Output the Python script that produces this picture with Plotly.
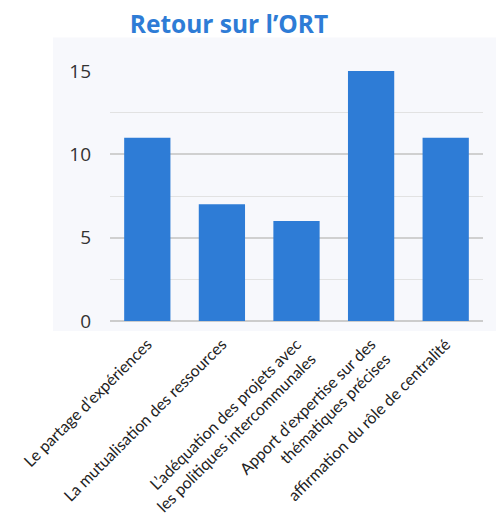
"""
Retour sur l'ORT bar chart.
"""

import plotly.graph_objects as go

# Data
CATEGORIES = [
    "Le partage d’expériences",
    "La mutualisation des ressources",
    "L’adéquation des projets avec<br>les politiques intercommunales",
    "Apport d’expertise sur des<br>thématiques précises",
    "affirmation du rôle de centralité",
]
COUNTS = [11, 7, 6, 15, 11]
Y_TICKS = [0, 5, 10, 15]

BAR_COLOR = "#2e7cd6"
PANEL_BG = "#f7f8fc"

# the page puts an 8px body margin around the figure
FIG_W, FIG_H = 496, 514


def plot_figure(save_path="out.html"):
    fig = go.Figure()

    fig.add_trace(
        go.Bar(
            x=CATEGORIES,
            y=COUNTS,
            marker=dict(color=BAR_COLOR, line=dict(width=0)),
            width=0.62,
        )
    )

    # light panel behind the plot, wider than the plot area
    fig.add_shape(
        type="rect",
        xref="paper",
        yref="paper",
        x0=-0.153,
        x1=1.07,
        y0=-0.04,
        y1=1.134,
        fillcolor=PANEL_BG,
        line=dict(width=0),
        layer="below",
    )

    fig.update_layout(
        width=FIG_W,
        height=FIG_H,
        margin=dict(l=102, r=21, t=62.5, b=201, autoexpand=False),
        paper_bgcolor="white",
        plot_bgcolor="rgba(0,0,0,0)",
        showlegend=False,
        font=dict(family="Open Sans", color="#333333"),
        title=dict(
            text="<b>Retour sur l’ORT</b>",
            font=dict(family="Open Sans", size=24.5, color="#2e7cd6"),
            x=221 / FIG_W,
            xanchor="center",
            xref="container",
            y=1 - 16 / FIG_H,
            yanchor="middle",
            yref="container",
        ),
    )

    fig.update_xaxes(
        automargin=False,
        tickangle=-45,
        tickfont=dict(family="Lato", size=16, color="#222222"),
        ticklabelstandoff=10,
        showgrid=False,
        showline=False,
        zeroline=False,
    )

    fig.update_yaxes(
        automargin=False,
        range=[0, 15],
        tickvals=Y_TICKS,
        tickfont=dict(family="Open Sans", size=19, color="#333333"),
        ticklabelstandoff=18,
        showgrid=True,
        gridcolor="#d0d0d0",
        gridwidth=1.5,
        zeroline=True,
        zerolinecolor="#cccccc",
        zerolinewidth=2,
        minor=dict(dtick=2.5, showgrid=True, gridcolor="#e2e2e2", gridwidth=1),
        showline=False,
    )

    fig.write_html(save_path)
    return fig


if __name__ == "__main__":
    plot_figure("out.html")
